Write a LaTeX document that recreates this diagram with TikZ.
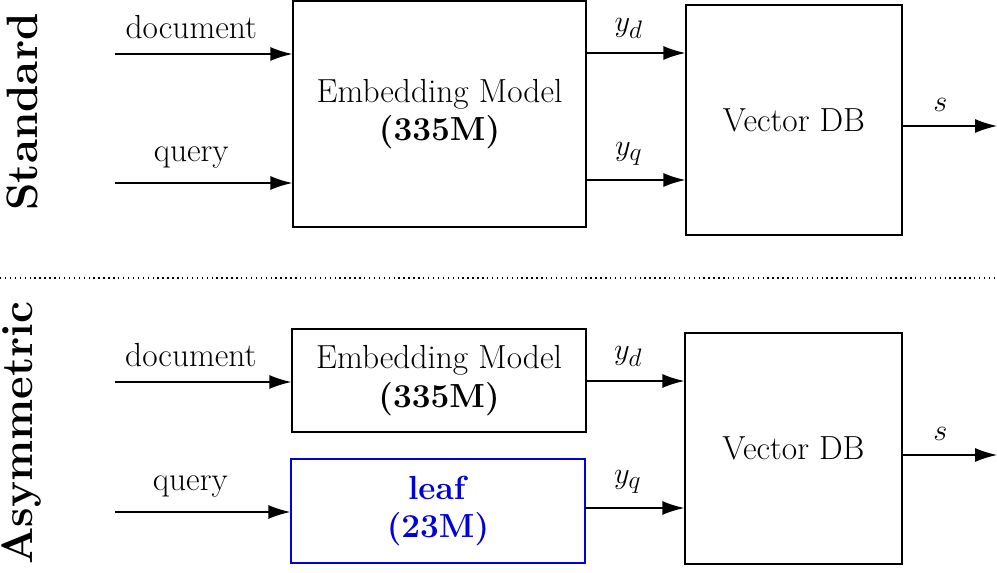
\documentclass[tikz,border=0pt]{standalone}
\usetikzlibrary{arrows.meta}
\begin{document}
\begin{tikzpicture}[x=0.02cm,y=-0.02cm,
  font=\fontsize{19}{22}\selectfont,
  box/.style={draw,thick,inner sep=0pt,align=center},
  arr/.style={thick,-{Latex[length=4.4mm,width=2.8mm]}},
  lab/.style={above,inner sep=8pt},
  side/.style={rotate=90,font=\fontsize{25}{28}\selectfont\bfseries}]
\useasboundingbox (0,0) rectangle (997,573);
% top
\node[box,minimum width=5.86cm,minimum height=4.52cm] (e1) at (439.5,114) {Embedding Model\\\textbf{(335M)}};
\node[box,minimum width=4.32cm,minimum height=4.6cm] (v1) at (794,120) {Vector DB};
\coordinate (d1) at (115,54); \coordinate (q1) at (115,183); \coordinate (s1) at (997,126);
\draw[arr] (d1) -- node[lab,pos=0.43]{document} (d1 -| e1.west);
\draw[arr] (q1) -- node[lab,pos=0.43]{query} (q1 -| e1.west);
\coordinate (yd1) at (586,53); \coordinate (yq1) at (586,180);
\draw[arr] (yd1) -- node[lab,pos=0.43]{$y_d$} (yd1 -| v1.west);
\draw[arr] (yq1) -- node[lab,pos=0.43]{$y_q$} (yq1 -| v1.west);
\draw[arr] (v1.east |- s1) -- node[lab,pos=0.4]{$s$} (s1);
\node[side] (st) at (22,112) {Standard};
% divider
\coordinate (l0) at (0,278); \coordinate (l1) at (997,278);
\draw[thick,dotted] (l0) -- (l1);
% bottom
\node[box,minimum width=5.88cm,minimum height=2.06cm] (e2) at (439,380.5) {Embedding Model\\\textbf{(335M)}};
\node[box,draw=blue!85!black,text=blue!85!black,minimum width=5.88cm,minimum height=2.08cm] (lf) at (438,511) {\textbf{leaf}\\\textbf{(23M)}};
\node[box,minimum width=4.34cm,minimum height=4.62cm] (v2) at (793.5,448.5) {Vector DB};
\coordinate (d2) at (115,382); \coordinate (q2) at (115,512); \coordinate (s2) at (997,455);
\draw[arr] (d2) -- node[lab,pos=0.43]{document} (d2 -| e2.west);
\draw[arr] (q2) -- node[lab,pos=0.43]{query} (q2 -| lf.west);
\coordinate (yd2) at (586,381); \coordinate (yq2) at (585,508);
\draw[arr] (yd2) -- node[lab,pos=0.43]{$y_d$} (yd2 -| v2.west);
\draw[arr] (yq2) -- node[lab,pos=0.43]{$y_q$} (yq2 -| v2.west);
\draw[arr] (v2.east |- s2) -- node[lab,pos=0.4]{$s$} (s2);
\node[side] (as) at (22,433) {Asymmetric};
\end{tikzpicture}
\end{document}
